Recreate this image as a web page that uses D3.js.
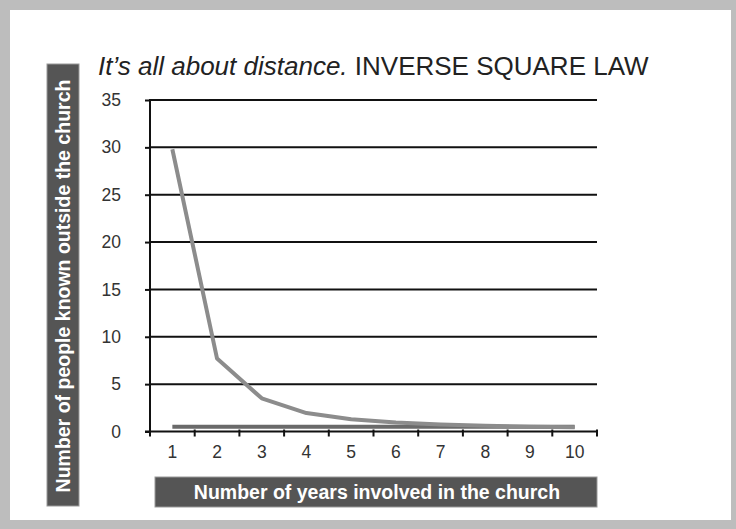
<!DOCTYPE html>
<html><head><meta charset="utf-8">
<script src="https://cdn.jsdelivr.net/npm/d3@7"></script>
<style>html,body{margin:0;padding:0;background:#fff;}svg{display:block;font-family:"Liberation Sans",Arial,sans-serif;}</style>
</head><body>
<script>
const years = ["1","2","3","4","5","6","7","8","9","10"];
const peopleKnown = [29.8, 7.7, 3.5, 1.95, 1.3, 0.95, 0.75, 0.6, 0.5, 0.45];
const baseline = [0.5, 0.5, 0.5, 0.5, 0.5, 0.5, 0.5, 0.5, 0.5, 0.5];
const yTicks = [0, 5, 10, 15, 20, 25, 30, 35];
const titleItalic = "It\u2019s all about distance.";
const titleRest = " INVERSE SQUARE LAW";
const xTitle = "Number of years involved in the church";
const yTitle = "Number of people known outside the church";

const W = 736, H = 529;
const svg = d3.select("body").append("svg").attr("width", W).attr("height", H);
// frame
svg.append("rect").attr("x",0).attr("y",0).attr("width",W).attr("height",H).attr("fill","#bdbdbd");
svg.append("rect").attr("x",10).attr("y",10).attr("width",721).attr("height",510).attr("fill","#fff");

const x = d3.scaleBand().domain(years).range([150, 597]);
const y = d3.scaleLinear().domain([0, 35]).range([431.5, 100]);

// gridlines
svg.append("g").selectAll("line").data(yTicks.filter(d=>d>0)).join("line")
  .attr("x1",150).attr("x2",597).attr("y1",d=>y(d)).attr("y2",d=>y(d))
  .attr("stroke","#111").attr("stroke-width",2);

// y axis
const yAxis = svg.append("g").attr("transform","translate(150,0)")
  .call(d3.axisLeft(y).tickValues(yTicks).tickSize(5).tickPadding(24));
yAxis.select(".domain").attr("stroke","#111").attr("stroke-width",2).attr("d",`M0,${y(35)-1}V${y(0)+1}`);
yAxis.selectAll(".tick line").attr("stroke","#111").attr("stroke-width",2);
yAxis.selectAll(".tick text").attr("font-size",17.5).attr("fill","#333").attr("font-family","Liberation Sans, Arial, sans-serif");

// x axis
const xAxis = svg.append("g").attr("transform",`translate(0,${y(0)})`)
  .call(d3.axisBottom(x).tickSize(0).tickPadding(14));
xAxis.select(".domain").attr("stroke","#111").attr("stroke-width",2).attr("d","M145,0H598");
xAxis.selectAll(".tick text").attr("font-size",17.5).attr("fill","#333").attr("font-family","Liberation Sans, Arial, sans-serif");
// category boundary ticks
const bounds = years.map(d=>x(d)).concat([x(years[years.length-1])+x.bandwidth()]);
xAxis.append("g").selectAll("line").data(bounds).join("line")
  .attr("x1",d=>d).attr("x2",d=>d).attr("y1",-2).attr("y2",5)
  .attr("stroke","#111").attr("stroke-width",2);

const cx = d => x(d) + x.bandwidth()/2;
// baseline series
svg.append("path").datum(baseline)
  .attr("d", d3.line().x((d,i)=>cx(years[i])).y(d=>y(d)))
  .attr("fill","none").attr("stroke","#6a6a6a").attr("stroke-width",4);
// curve
svg.append("path").datum(peopleKnown)
  .attr("d", d3.line().x((d,i)=>cx(years[i])).y(d=>y(d)))
  .attr("fill","none").attr("stroke","#8c8c8c").attr("stroke-width",4).attr("stroke-linejoin","round");

// title
const t = svg.append("text").attr("x",98).attr("y",75).attr("font-size",26).attr("fill","#222");
t.append("tspan").attr("font-style","italic").text(titleItalic);
t.append("tspan").text(titleRest);

// x title box
svg.append("rect").attr("x",155).attr("y",477).attr("width",442).attr("height",30).attr("fill","#555").attr("stroke","#999").attr("stroke-width",1);
svg.append("text").attr("x",377).attr("y",499).attr("text-anchor","middle").attr("font-size",19.5).attr("font-weight","bold").attr("fill","#fff").text(xTitle);

// y title box
svg.append("rect").attr("x",47).attr("y",64).attr("width",32).attr("height",442).attr("fill","#555").attr("stroke","#999").attr("stroke-width",1);
svg.append("text").attr("transform","translate(70,286) rotate(-90)").attr("text-anchor","middle").attr("font-size",19.5).attr("font-weight","bold").attr("fill","#fff").text(yTitle);
</script>
</body></html>
